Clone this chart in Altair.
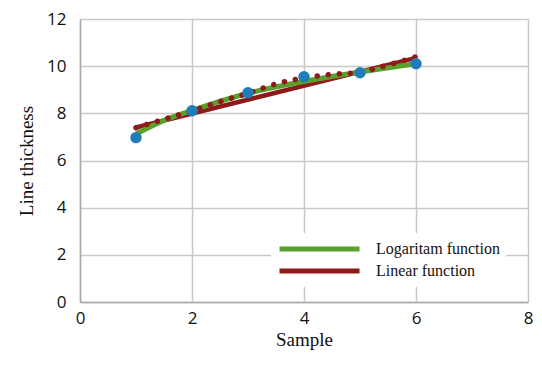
import altair as alt
import pandas as pd

# Measured samples
sample_x = [1, 2, 3, 4, 5, 6]
sample_y = [6.97, 8.11, 8.87, 9.55, 9.72, 10.1]

# Logarithmic trend line
log_x = [1, 1.5, 2, 3, 4, 5, 6]
log_y = [7.12, 7.7, 8.12, 8.85, 9.35, 9.75, 10.1]

# Linear trend line
lin_x = [1, 6]
lin_y = [7.4, 10.35]

# Dotted red curve
dot_x = [1, 1.5, 2, 2.5, 3, 3.5, 4, 4.5, 5, 5.5, 6]
dot_y = [7.39, 7.75, 8.1, 8.5, 8.85, 9.25, 9.5, 9.65, 9.75, 10.05, 10.4]

series_names = ["Logaritam function", "Linear function"]
series_colors = ["#5aa02c", "#8e1a1a"]

pts = pd.DataFrame({"x": sample_x, "y": sample_y})
log_df = pd.DataFrame({"x": log_x, "y": log_y, "s": series_names[0]})
lin_df = pd.DataFrame({"x": lin_x, "y": lin_y, "s": series_names[1]})
dots = pd.DataFrame({"x": dot_x, "y": dot_y})

xs = alt.Scale(domain=[0, 8], nice=False, zero=False)
ys = alt.Scale(domain=[0, 12], nice=False)

xax = alt.Axis(values=[0, 2, 4, 6, 8], format="d", title="Sample", grid=True, ticks=False,
               labelPadding=8, titlePadding=4, labelFlush=False)
yax = alt.Axis(values=[0, 2, 4, 6, 8, 10, 12], format="d", title="Line thickness", grid=True,
               ticks=False, labelPadding=14, titlePadding=10, labelFlush=False)

color = alt.Color("s:N", scale=alt.Scale(domain=series_names, range=series_colors),
                  sort=series_names,
                  legend=alt.Legend(title=None, orient="none", legendX=191, legendY=214,
                                    symbolType="stroke", symbolSize=6400,
                                    symbolStrokeWidth=5, labelFont="Liberation Serif",
                                    labelFontSize=16, labelColor="#111",
                                    fillColor="white", padding=6, rowPadding=2,
                                    clipHeight=20, labelOffset=14))

lin_line = alt.Chart(lin_df).mark_line(strokeWidth=4.5).encode(
    x=alt.X("x:Q", scale=xs, axis=xax),
    y=alt.Y("y:Q", scale=ys, axis=yax),
    color=color,
)

log_line = alt.Chart(log_df).mark_line(strokeWidth=5, interpolate="monotone").encode(
    x=alt.X("x:Q", scale=xs),
    y=alt.Y("y:Q", scale=ys),
    color=color,
)

dotted = alt.Chart(dots).mark_line(color="#8e1a1a", strokeWidth=5.5, strokeDash=[0.1, 11],
                                   strokeCap="round", interpolate="monotone").encode(
    x=alt.X("x:Q", scale=xs), y=alt.Y("y:Q", scale=ys))

points = alt.Chart(pts).mark_circle(color="#1f7db8", size=130, opacity=1).encode(
    x=alt.X("x:Q", scale=xs), y=alt.Y("y:Q", scale=ys))

chart = alt.layer(lin_line, log_line, dotted, points).properties(
    width=448, height=283,
    background="white",
    autosize=alt.AutoSizeParams(type="none"),
    padding={"left": 72, "top": 11, "right": 6, "bottom": 55},
).configure_view(stroke=None).configure_axis(
    gridColor="#c8c8c8", gridWidth=1.5, domainColor="#aaaaaa", domainWidth=1.5,
    labelFont="Open Sans", labelFontSize=17, labelColor="#111",
    titleFont="Liberation Serif", titleFontSize=19, titleFontWeight="normal", titleColor="#111",
)

chart.save("out.html", embed_options={"renderer": "svg", "actions": False})
